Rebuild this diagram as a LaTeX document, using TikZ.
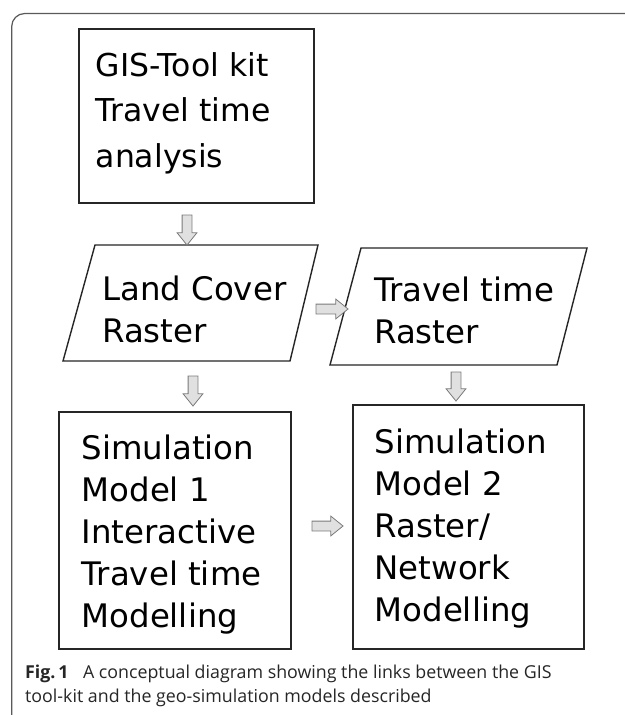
\documentclass[tikz,border=0pt]{standalone}
\usepackage{fontspec}
\setmainfont{DejaVu Sans}
\newfontfamily\capfont{Open Sans}
\usetikzlibrary{shapes.arrows}
\definecolor{framegray}{HTML}{5A5A5A}
\definecolor{arrfill}{HTML}{E0E0E0}
\definecolor{arrline}{HTML}{7A7A7A}
\tikzset{
  box/.style={draw=black!85, line width=1.4pt},
  lbl/.style={anchor=base west, inner sep=0pt, text=black},
  blockarr/.style={single arrow, draw=arrline, fill=arrfill, line width=0.8pt,
    inner xsep=0pt, inner ysep=4.5pt, single arrow head extend=5pt,
    single arrow tip angle=78, minimum width=19pt},
  caplbl/.style={anchor=base west, inner sep=0pt, text=black!85, font=\capfont\fontsize{17.8}{20}\selectfont}
}
\begin{document}
\begin{tikzpicture}[x=1pt,y=-1pt]
\useasboundingbox (0,0) rectangle (624,715);
\fill[white] (0,0) rectangle (624,715);
% outer frame
\draw[framegray, line width=1.2pt] (11.7,716) -- (11.7,26.5) arc[start angle=180, end angle=270, radius=13] -- (625,13.5);

% top box
\node[box, minimum width=235pt, minimum height=174pt, inner sep=0pt] (gis) at (196.5,116) {};
\begin{scope}[every node/.append style={font=\fontsize{31.5}{36}\selectfont}]
\node[lbl] (gis1) at (95.5,76) {GIS-Tool kit};
\node[lbl] (gis2) at (95.5,121) {Travel time};
\node[lbl] (gis3) at (95.5,167) {analysis};
\end{scope}

% land cover parallelogram
\coordinate (lcTL) at (95,245);
\coordinate (lcTR) at (318,245);
\coordinate (lcBR) at (290,361);
\coordinate (lcBL) at (63,361);
\draw[box] (lcTL) -- (lcTR) -- (lcBR) -- (lcBL) -- cycle;
\begin{scope}[every node/.append style={font=\fontsize{32.4}{36}\selectfont}]
\node[lbl] (lc1) at (102,300) {Land Cover};
\node[lbl] (lc2) at (102,342) {Raster};
\end{scope}

% travel time parallelogram
\coordinate (ttTL) at (361,248);
\coordinate (ttTR) at (587,248);
\coordinate (ttBR) at (557,365);
\coordinate (ttBL) at (330,365);
\draw[box] (ttTL) -- (ttTR) -- (ttBR) -- (ttBL) -- cycle;
\begin{scope}[every node/.append style={font=\fontsize{32.4}{36}\selectfont}]
\node[lbl] (tt1) at (374,301) {Travel time};
\node[lbl] (tt2) at (374,343) {Raster};
\end{scope}

% simulation model 1
\node[box, minimum width=232pt, minimum height=237pt, inner sep=0pt] (sm1) at (175,530.5) {};
\begin{scope}[every node/.append style={font=\fontsize{32.4}{36}\selectfont}]
\node[lbl] (sm1a) at (81.5,459) {Simulation};
\node[lbl] (sm1b) at (81.5,501) {Model 1};
\node[lbl] (sm1c) at (81.5,543) {Interactive};
\node[lbl] (sm1d) at (81.5,585) {Travel time};
\node[lbl] (sm1e) at (81.5,627) {Modelling};
\end{scope}

% simulation model 2
\node[box, minimum width=231pt, minimum height=244pt, inner sep=0pt] (sm2) at (468.5,527) {};
\begin{scope}[every node/.append style={font=\fontsize{32.4}{36}\selectfont}]
\node[lbl] (sm2a) at (374.5,453) {Simulation};
\node[lbl] (sm2b) at (374.5,495) {Model 2};
\node[lbl] (sm2c) at (374.5,537) {Raster/};
\node[lbl] (sm2d) at (374.5,579) {Network};
\node[lbl] (sm2e) at (374.5,621) {Modelling};
\end{scope}

% block arrows
\node[blockarr, minimum height=30pt, rotate=-90] (a1) at (187,227) {};
\node[blockarr, minimum height=32pt] (a2) at (329,309) {};
\node[blockarr, minimum height=30pt, rotate=-90] (a3) at (193,388) {};
\node[blockarr, minimum height=29pt, rotate=-90] (a4) at (456,383.5) {};
\node[blockarr, minimum height=31pt] (a5) at (324.5,526) {};

% caption
\node[caplbl] (cap1) at (25,678) {\textbf{Fig.\,1}\hspace{0.55em} A conceptual diagram showing the links between the GIS};
\node[caplbl] (cap2) at (25,702) {tool-kit and the geo-simulation models described};
\end{tikzpicture}
\end{document}
